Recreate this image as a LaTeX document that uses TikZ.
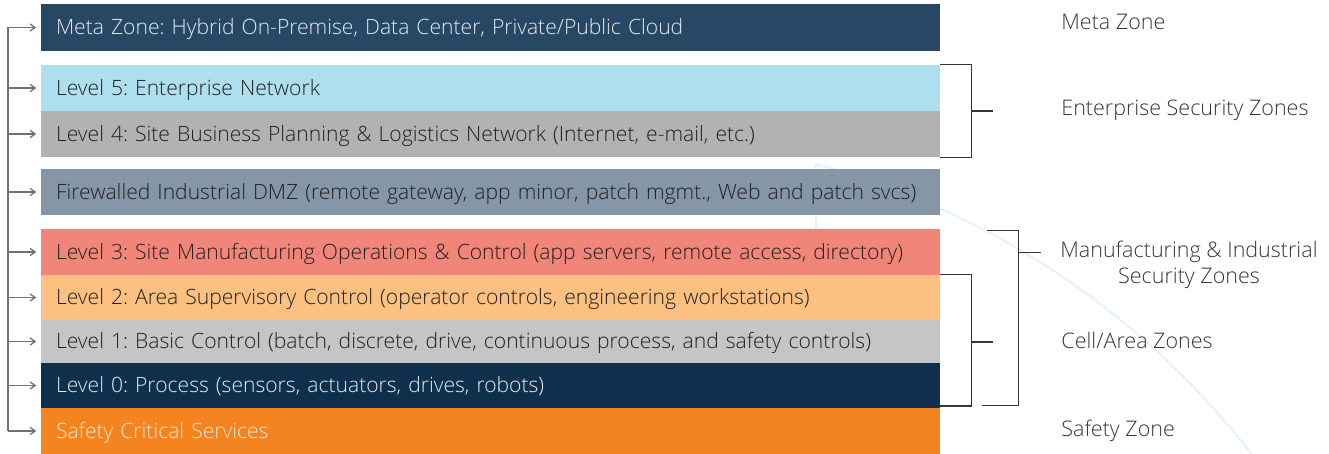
\documentclass[tikz,border=0pt]{standalone}
\usepackage{fontspec}
\usepackage{xcolor}
\usepackage{tikz}
\usetikzlibrary{arrows.meta}
\setmainfont{Open Sans Light}
\frenchspacing
\definecolor{metablue}{RGB}{38,72,100}
\definecolor{entblue}{RGB}{173,223,238}
\definecolor{sitegray}{RGB}{177,178,180}
\definecolor{dmzslate}{RGB}{133,151,167}
\definecolor{opsred}{RGB}{242,133,122}
\definecolor{areapeach}{RGB}{252,193,128}
\definecolor{basicgray}{RGB}{196,197,199}
\definecolor{processnavy}{RGB}{14,48,77}
\definecolor{safetyorange}{RGB}{243,132,32}
\definecolor{darktext}{RGB}{35,31,32}
\definecolor{lighttext}{RGB}{228,234,240}
\definecolor{safetytext}{RGB}{253,231,210}
\definecolor{linegray}{RGB}{112,112,112}
\definecolor{globeblue}{RGB}{228,243,250}

\tikzset{
  zonebox/.style={rectangle, minimum height=#1, text width=434.5pt, inner xsep=7.5pt, inner ysep=0pt, align=left, text height=0.92em, text depth=0.2em},
  bracket/.style={line width=0.75pt, draw=darktext!90},
  busline/.style={line width=0.65pt, draw=linegray},
  zonelabel/.style={anchor=west, text=darktext!90, inner sep=0pt, font=\fontsize{10.75}{13.2}\selectfont}
}

\begin{document}
\begin{tikzpicture}[x=0.5pt, y=-0.5pt, every node/.style={font=\fontsize{10.55}{13}\selectfont}]
\useasboundingbox (0,0) rectangle (1329,454);

% Faint globe lines behind the stack
\draw[globeblue, line width=1pt] (816,164) -- (816,454);
\draw[globeblue, line width=1pt] (816,164) arc[start angle=-74.9, end angle=-37.6, radius=822];

% Zone stack
\node[zonebox=23.5pt, fill=metablue, text=lighttext] (meta) at (490.5,27.5) {\mbox{Meta Zone: Hybrid On-Premise, Data Center, Private/Public Cloud}};
\node[zonebox=23pt, fill=entblue, text=darktext] (l5) at (490.5,88) {\mbox{Level 5: Enterprise Network}};
\node[zonebox=23pt, fill=sitegray, text=darktext] (l4) at (490.5,134) {\mbox{Level 4: Site Business Planning \& Logistics Network (Internet, e-mail, etc.)}};
\node[zonebox=23pt, fill=dmzslate, text=darktext] (dmz) at (490.5,192) {\mbox{Firewalled Industrial DMZ (remote gateway, app minor, patch mgmt., Web and patch svcs)}};
\node[zonebox=23pt, fill=opsred, text=darktext] (l3) at (490.5,252) {\mbox{Level 3: Site Manufacturing Operations \& Control (app servers, remote access, directory)}};
\node[zonebox=22.5pt, fill=areapeach, text=darktext] (l2) at (490.5,297.5) {\mbox{Level 2: Area Supervisory Control (operator controls, engineering workstations)}};
\node[zonebox=21.5pt, fill=basicgray, text=darktext] (l1) at (490.5,341.5) {\mbox{Level 1: Basic Control (batch, discrete, drive, continuous process, and safety controls)}};
\node[zonebox=22.5pt, fill=processnavy, text=lighttext] (l0) at (490.5,385.5) {\mbox{Level 0: Process (sensors, actuators, drives, robots)}};
\node[zonebox=23pt, fill=safetyorange, text=safetytext] (safety) at (490.5,431) {\mbox{Safety Critical Services}};

% Left bus with arrows into every zone
\coordinate (bus) at (8,0);
\draw[busline] (bus |- meta.west) -- (bus |- safety.west);
\foreach \z in {meta,l5,l4,dmz,l3,l2,l1,l0,safety}
  \draw[busline, -{Straight Barb[length=2.5pt, width=3.6pt]}, shorten >=2.2pt] (bus |- \z.west) -- (\z.west);

% Brackets
\coordinate (entmid) at (971.7,111);
\coordinate (cellmid) at (971.7,342);
\coordinate (mfgmid) at (1018.3,252.3);
\coordinate (mfgtop) at (986.7,230.3);
\coordinate (mfgbot) at (982.3,405.7);
\draw[bracket] (l5.north east) -| (entmid) |- (l4.south east);
\draw[bracket] (entmid) -- ++(21.6,0) coordinate (enttick);
\draw[bracket] (l2.north east) -| (cellmid) |- ([yshift=1.2pt]l0.south east);
\draw[bracket] (cellmid) -- ++(21.6,0) coordinate (celltick);
\draw[bracket] (mfgtop) -| (mfgmid) |- (mfgbot);
\draw[bracket] (mfgmid) -- ++(22.4,0) coordinate (mfgtick);

% Zone labels
\node[zonelabel] (metalabel) at (1061,22) {Meta Zone};
\node[zonelabel] (entlabel) at (1061,110) {Enterprise Security Zones};
\node[zonelabel, anchor=center, align=center] (mfglabel) at (1189,265) {Manufacturing \& Industrial\\Security Zones};
\node[zonelabel] (celllabel) at (1061,340) {Cell/Area Zones};
\node[zonelabel] (safetylabel) at (1061,431) {Safety Zone};
\end{tikzpicture}
\end{document}
